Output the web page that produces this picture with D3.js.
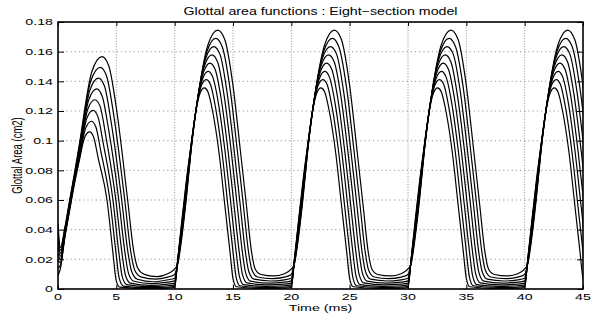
<!DOCTYPE html>
<html>
<head>
<meta charset="utf-8">
<script src="https://cdn.jsdelivr.net/npm/d3@7"></script>
<style>
  body { margin: 0; background: #fff; }
  text { font-family: "Liberation Sans", Arial, Helvetica, sans-serif; fill: #000; }
</style>
</head>
<body>
<svg id="chart" width="598" height="320"></svg>
<script>
// ---- data ----
const chartTitle = "Glottal area functions : Eight\u2212section model";
const xLabel = "Time (ms)";
const yLabel = "Glottal Area (cm2)";
const xTicks = [0, 5, 10, 15, 20, 25, 30, 35, 40, 45];
const yTicks = [0, 0.02, 0.04, 0.06, 0.08, 0.1, 0.12, 0.14, 0.16, 0.18];

// first glottal cycle (0-10 ms), one row per section
const firstTime = [
  [0, 0.2, 0.6, 1.0, 1.4, 1.8, 2.3, 2.71, 3.05, 3.45, 4.2, 4.7, 4.98, 5.3, 7.5, 9.4, 10],
  [0, 0.2, 0.6, 1.0, 1.4, 1.8, 2.39, 2.86, 3.24, 3.67, 4.45, 4.96, 5.25, 5.6, 7.64, 9.4, 10],
  [0, 0.2, 0.6, 1.0, 1.4, 1.8, 2.47, 3.01, 3.42, 3.89, 4.71, 5.21, 5.51, 5.9, 7.79, 9.4, 10],
  [0, 0.2, 0.6, 1.0, 1.4, 1.8, 2.56, 3.16, 3.61, 4.11, 4.96, 5.47, 5.78, 6.2, 7.93, 9.4, 10],
  [0, 0.2, 0.6, 1.0, 1.4, 1.8, 2.64, 3.32, 3.79, 4.34, 5.21, 5.73, 6.05, 6.5, 8.07, 9.4, 10],
  [0, 0.2, 0.6, 1.0, 1.4, 1.8, 2.73, 3.47, 3.98, 4.56, 5.46, 5.99, 6.32, 6.8, 8.21, 9.4, 10],
  [0, 0.2, 0.6, 1.0, 1.4, 1.8, 2.81, 3.62, 4.16, 4.78, 5.72, 6.24, 6.58, 7.1, 8.36, 9.4, 10],
  [0, 0.2, 0.6, 1.0, 1.4, 1.8, 2.9, 3.77, 4.35, 5.0, 5.97, 6.5, 6.85, 7.4, 8.5, 9.4, 10]
];
const firstArea = [
  [0.009, 0.0135, 0.0355, 0.053, 0.0705, 0.0855, 0.1025, 0.1059, 0.1025, 0.088, 0.06, 0.025, 0.006, 0.0012, 0.0003, 0.0006, 0.001],
  [0.014, 0.016, 0.036, 0.054, 0.0715, 0.087, 0.1088, 0.1131, 0.1094, 0.0929, 0.06, 0.025, 0.0071, 0.002, 0.0009, 0.0013, 0.0018],
  [0.019, 0.018, 0.037, 0.055, 0.0725, 0.0885, 0.1151, 0.1204, 0.1162, 0.0977, 0.06, 0.025, 0.0082, 0.0029, 0.0016, 0.0022, 0.0028],
  [0.024, 0.020, 0.038, 0.056, 0.0735, 0.090, 0.1214, 0.1276, 0.1231, 0.1026, 0.06, 0.025, 0.0093, 0.004, 0.0025, 0.0033, 0.004],
  [0.029, 0.022, 0.039, 0.057, 0.0745, 0.0915, 0.1276, 0.1349, 0.1299, 0.1074, 0.06, 0.025, 0.0104, 0.0052, 0.0036, 0.0046, 0.0055],
  [0.034, 0.024, 0.040, 0.058, 0.0755, 0.093, 0.1339, 0.1421, 0.1368, 0.1123, 0.06, 0.025, 0.0116, 0.0066, 0.0049, 0.0062, 0.0073],
  [0.039, 0.026, 0.041, 0.059, 0.0765, 0.0945, 0.1402, 0.1494, 0.1436, 0.1171, 0.06, 0.025, 0.0127, 0.0082, 0.0066, 0.008, 0.0098],
  [0.044, 0.028, 0.042, 0.060, 0.0775, 0.096, 0.1465, 0.1566, 0.1505, 0.122, 0.06, 0.025, 0.0138, 0.0099, 0.0083, 0.0103, 0.0135]
];

// steady cycle (time from cycle start), repeated at each cycle start
const cycleStarts = [10, 20, 30, 40];
const cycleTime = [
  [0, 0.25, 0.6, 1.0, 1.4, 1.8, 2.2, 2.54, 2.85, 3.25, 3.8, 4.3, 4.75, 5.0, 5.3, 7.5, 9.4, 10],
  [0, 0.25, 0.6, 1.0, 1.4, 1.84, 2.29, 2.7, 3.06, 3.49, 4.06, 4.56, 5.01, 5.27, 5.6, 7.64, 9.4, 10],
  [0, 0.25, 0.6, 1.0, 1.4, 1.89, 2.39, 2.87, 3.26, 3.74, 4.33, 4.83, 5.28, 5.54, 5.9, 7.79, 9.4, 10],
  [0, 0.25, 0.6, 1.0, 1.4, 1.93, 2.48, 3.03, 3.47, 3.98, 4.59, 5.09, 5.54, 5.81, 6.2, 7.93, 9.4, 10],
  [0, 0.25, 0.6, 1.0, 1.4, 1.97, 2.57, 3.19, 3.68, 4.22, 4.86, 5.36, 5.81, 6.09, 6.5, 8.07, 9.4, 10],
  [0, 0.25, 0.6, 1.0, 1.4, 2.01, 2.66, 3.35, 3.89, 4.46, 5.12, 5.62, 6.07, 6.36, 6.8, 8.21, 9.4, 10],
  [0, 0.25, 0.6, 1.0, 1.4, 2.06, 2.76, 3.52, 4.09, 4.71, 5.39, 5.89, 6.34, 6.63, 7.1, 8.36, 9.4, 10],
  [0, 0.25, 0.6, 1.0, 1.4, 2.1, 2.85, 3.68, 4.3, 4.95, 5.65, 6.15, 6.6, 6.9, 7.4, 8.5, 9.4, 10]
];
const cycleArea = [
  [0.001, 0.019, 0.045, 0.073, 0.097, 0.119, 0.1325, 0.1356, 0.133, 0.12, 0.092, 0.0565, 0.0245, 0.007, 0.0015, 0.0004, 0.0006, 0.001],
  [0.0018, 0.0186, 0.0434, 0.0713, 0.0964, 0.1213, 0.1371, 0.1412, 0.138, 0.1229, 0.092, 0.0565, 0.0245, 0.0079, 0.0022, 0.001, 0.0013, 0.0018],
  [0.0028, 0.0183, 0.0419, 0.0696, 0.0959, 0.1236, 0.1416, 0.1467, 0.143, 0.1257, 0.092, 0.0565, 0.0245, 0.0089, 0.003, 0.0018, 0.0022, 0.0028],
  [0.004, 0.0179, 0.0403, 0.0679, 0.0953, 0.1259, 0.1462, 0.1523, 0.148, 0.1286, 0.092, 0.0565, 0.0245, 0.0098, 0.0041, 0.0028, 0.0033, 0.004],
  [0.0055, 0.0176, 0.0387, 0.0661, 0.0947, 0.1281, 0.1508, 0.1578, 0.153, 0.1314, 0.092, 0.0565, 0.0245, 0.0107, 0.0053, 0.004, 0.0046, 0.0055],
  [0.0073, 0.0172, 0.0371, 0.0644, 0.0941, 0.1304, 0.1554, 0.1634, 0.158, 0.1343, 0.092, 0.0565, 0.0245, 0.0116, 0.0066, 0.0054, 0.0062, 0.0073],
  [0.0098, 0.0169, 0.0356, 0.0627, 0.0936, 0.1327, 0.1599, 0.169, 0.163, 0.1371, 0.092, 0.0565, 0.0245, 0.0126, 0.0081, 0.007, 0.008, 0.0098],
  [0.0135, 0.0165, 0.034, 0.061, 0.093, 0.135, 0.1645, 0.1745, 0.168, 0.14, 0.092, 0.0565, 0.0245, 0.0135, 0.0098, 0.0088, 0.0103, 0.0135]
];

// ---- layout ----
const width = 598, height = 320;
const margin = { left: 58, right: 15, top: 22, bottom: 31 };
const plotW = width - margin.left - margin.right;
const plotH = height - margin.top - margin.bottom;
const stretch = 1.5;   // the reference text is drawn wide

const svg = d3.select("#chart");
const g = svg.append("g").attr("transform", `translate(${margin.left},${margin.top})`);

const x = d3.scaleLinear().domain([0, 45]).range([0, plotW]);
const y = d3.scaleLinear().domain([0, 0.18]).range([plotH, 0]);

svg.append("defs").append("clipPath").attr("id", "plotClip")
  .append("rect").attr("width", plotW).attr("height", plotH);

// dotted grid
g.append("g").selectAll("line")
  .data(xTicks.slice(1, -1)).enter().append("line")
  .attr("x1", d => x(d)).attr("x2", d => x(d))
  .attr("y1", 0).attr("y2", plotH)
  .attr("stroke", "#777").attr("stroke-width", 0.8)
  .attr("stroke-dasharray", "1,1.7");
g.append("g").selectAll("line")
  .data(yTicks.slice(1, -1)).enter().append("line")
  .attr("y1", d => y(d)).attr("y2", d => y(d))
  .attr("x1", 0).attr("x2", plotW)
  .attr("stroke", "#777").attr("stroke-width", 0.8)
  .attr("stroke-dasharray", "1.2,3");

// build every section's path: first cycle then the repeated cycles
const sections = firstTime.map((ft, k) => {
  const pts = ft.map((t, i) => [t, firstArea[k][i]]);
  cycleStarts.forEach(s => {
    cycleTime[k].forEach((t, i) => {
      if (i === 0) return; // same instant as previous cycle end
      pts.push([s + t, cycleArea[k][i]]);
    });
  });
  return pts;
});

const line = d3.line()
  .x(d => x(d[0]))
  .y(d => y(d[1]))
  .curve(d3.curveMonotoneX);

g.append("g").attr("clip-path", "url(#plotClip)")
  .selectAll("path").data(sections).enter().append("path")
  .attr("d", line)
  .attr("fill", "none")
  .attr("stroke", "#000")
  .attr("stroke-width", 1.2)
  .attr("stroke-linejoin", "round");

// inward ticks on all four sides
const tickX = 4, tickY = 6;
g.append("g").attr("transform", `translate(0,${plotH})`)
  .call(d3.axisBottom(x).tickValues(xTicks).tickSize(-tickX).tickFormat(""))
  .call(a => a.select(".domain").remove());
g.append("g")
  .call(d3.axisTop(x).tickValues(xTicks).tickSize(-tickX).tickFormat(""))
  .call(a => a.select(".domain").remove());
g.append("g")
  .call(d3.axisLeft(y).tickValues(yTicks).tickSize(-tickY).tickFormat(""))
  .call(a => a.select(".domain").remove());
g.append("g").attr("transform", `translate(${plotW},0)`)
  .call(d3.axisRight(y).tickValues(yTicks).tickSize(-tickY).tickFormat(""))
  .call(a => a.select(".domain").remove());
g.selectAll(".tick line").attr("stroke", "#000").attr("stroke-width", 1);

// axes box
g.append("rect")
  .attr("width", plotW).attr("height", plotH)
  .attr("fill", "none").attr("stroke", "#000").attr("stroke-width", 1.6);

// tick labels
const fmtY = d => d === 0 ? "0" : String(+d.toFixed(2));
g.append("g").selectAll("text").data(yTicks).enter().append("text")
  .attr("transform", d => `translate(-5,${y(d) + 3.4}) scale(${stretch},1)`)
  .attr("text-anchor", "end")
  .attr("font-size", 9.5)
  .text(fmtY);
g.append("g").selectAll("text").data(xTicks).enter().append("text")
  .attr("transform", d => `translate(${x(d)},${plotH + 10.5}) scale(${stretch},1)`)
  .attr("text-anchor", "middle")
  .attr("font-size", 9.5)
  .text(d => d);

// title and axis labels
svg.append("text")
  .attr("transform", `translate(${margin.left + plotW / 2},14.5) scale(1.42,1)`)
  .attr("text-anchor", "middle")
  .attr("font-size", 10)
  .text(chartTitle);
svg.append("text")
  .attr("transform", `translate(${margin.left + plotW / 2},310.5) scale(${stretch},1)`)
  .attr("text-anchor", "middle")
  .attr("font-size", 9.5)
  .text(xLabel);
svg.append("text")
  .attr("transform", `translate(22,${margin.top + plotH / 2}) scale(${stretch},1) rotate(-90)`)
  .attr("text-anchor", "middle")
  .attr("font-size", 9.5)
  .text(yLabel);
</script>
</body>
</html>
